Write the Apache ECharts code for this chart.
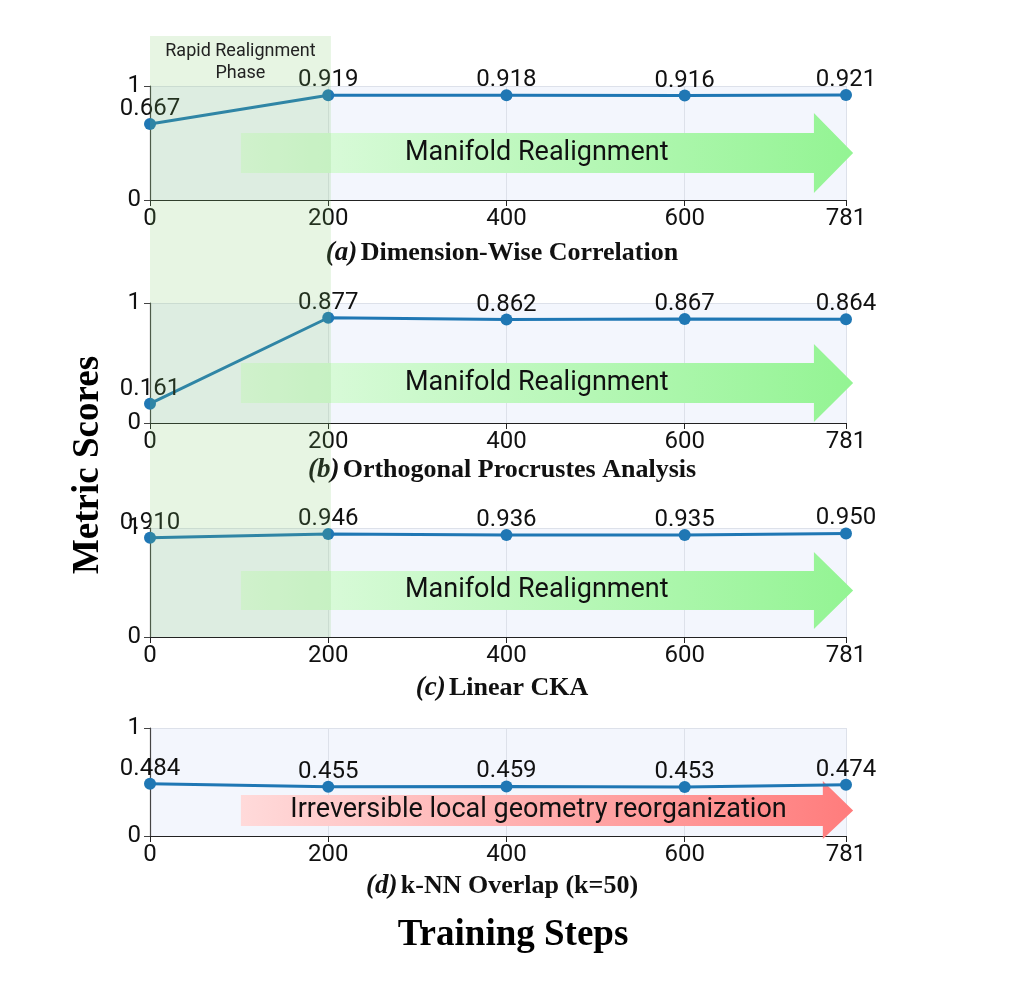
<!DOCTYPE html>
<html><head><meta charset="utf-8">
<script src="https://cdn.jsdelivr.net/npm/echarts@6/dist/echarts.min.js"></script>
<style>html,body{margin:0;padding:0;background:#fff}#c{width:1014px;height:982px}</style>
</head><body><div id="c"></div>
<script>
// ---- data ----
const steps = [0, 200, 400, 600, 781];
const xTickValues = [0, 200, 400, 600, 781];
const dimCorr = [0.667, 0.919, 0.918, 0.916, 0.921];
const procrustes = [0.161, 0.877, 0.862, 0.867, 0.864];
const linearCKA = [0.910, 0.946, 0.936, 0.935, 0.950];
const knnOverlap = [0.484, 0.455, 0.459, 0.453, 0.474];
const panelTags = ['(a)', '(b)', '(c)', '(d)'];
const panelNames = ['Dimension-Wise Correlation', 'Orthogonal Procrustes Analysis', 'Linear CKA', 'k-NN Overlap (k=50)'];
const arrowTexts = ['Manifold Realignment', 'Manifold Realignment', 'Manifold Realignment', 'Irreversible local geometry reorganization'];
const phaseLabel = 'Rapid Realignment\nPhase';
const yLabel = 'Metric Scores';
const xLabel = 'Training Steps';
const phaseEndStep = 203;

// ---- layout / style ----
const seriesValues = [dimCorr, procrustes, linearCKA, knnOverlap];
const grids = [
  {top: 86, height: 114, titleY: 253},
  {top: 303, height: 120, titleY: 470},
  {top: 528, height: 109, titleY: 688},
  {top: 728, height: 108, titleY: 886}
];
const arrowGeom = [
  {body: [0.237, 0.588], head: [0.061, 0.763], x0: 102, hx: 745, tip: 789, tx: 434},
  {body: [0.167, 0.500], head: [0.008, 0.658], x0: 102, hx: 745, tip: 789, tx: 434},
  {body: [0.248, 0.606], head: [0.073, 0.780], x0: 102, hx: 745, tip: 789, tx: 434},
  {body: [0.093, 0.380], head: [-0.028, 0.509], x0: 102, hx: 755, tip: 789, tx: 436}
];
const FONT = 'Roboto';
const SERIF = 'Liberation Serif';
const BLUE = '#1f77b4';

const chart = echarts.init(document.getElementById('c'), null, {renderer: 'canvas'});

const option = {
  backgroundColor: '#ffffff',
  animation: false,
  grid: grids.map(g => ({
    left: 150, width: 696, top: g.top, height: g.height,
    show: true, backgroundColor: '#f3f6fd', borderWidth: 0
  })),
  xAxis: grids.map((g, i) => ({
    type: 'value', gridIndex: i, min: 0, max: 781, interval: 200,
    axisLine: {show: true, onZero: false, lineStyle: {color: '#222', width: 1.2}},
    axisTick: {show: true, length: 6, customValues: xTickValues, lineStyle: {color: '#222'}},
    axisLabel: {customValues: xTickValues, fontSize: 24, color: '#111', margin: 7, fontFamily: FONT},
    splitLine: {show: true, lineStyle: {color: '#dde1ea', width: 1}}
  })),
  yAxis: grids.map((g, i) => ({
    type: 'value', gridIndex: i, min: 0, max: 1, interval: 1,
    axisLine: {show: true, onZero: false, lineStyle: {color: '#444', width: 1.2}},
    axisTick: {show: true, length: 6, lineStyle: {color: '#444'}},
    axisLabel: {fontSize: 24, color: '#111', margin: 9, fontFamily: FONT},
    splitLine: {show: true, lineStyle: {color: '#dde1ea', width: 1}}
  })),
  series: seriesValues.map((vals, i) => ({
    type: 'line', xAxisIndex: i, yAxisIndex: i,
    data: steps.map((s, j) => [s, vals[j]]),
    symbol: 'circle', symbolSize: 12, z: 3,
    lineStyle: {color: BLUE, width: 3},
    itemStyle: {color: BLUE},
    label: {
      show: true, position: 'top', distance: -3,
      formatter: p => p.value[1].toFixed(3),
      fontSize: 24, color: '#111', fontFamily: FONT
    }
  }))
};
chart.setOption(option);

function px(i, x, y) { return chart.convertToPixel({gridIndex: i}, [x, y]); }

const graphics = [];
arrowGeom.forEach((a, i) => {
  const pts = [
    px(i, a.x0, a.body[1]), px(i, a.hx, a.body[1]), px(i, a.hx, a.head[1]),
    px(i, a.tip, (a.body[0] + a.body[1]) / 2),
    px(i, a.hx, a.head[0]), px(i, a.hx, a.body[0]), px(i, a.x0, a.body[0])
  ];
  const isRed = i === 3;
  graphics.push({
    type: 'polygon', z: 1, silent: true,
    shape: {points: pts},
    style: {
      fill: new echarts.graphic.LinearGradient(0, 0, 1, 0, isRed ?
        [{offset: 0, color: '#ffdada'}, {offset: 1, color: '#ff7c7c'}] :
        [{offset: 0, color: '#e3fbe3'}, {offset: 1, color: '#93f493'}])
    }
  });
  const c = px(i, a.tx, (a.body[0] + a.body[1]) / 2);
  graphics.push({
    type: 'text', z: 1, silent: true, x: c[0], y: c[1],
    style: {text: arrowTexts[i], fill: '#111', font: '27px Roboto', align: 'center', verticalAlign: 'middle'}
  });
  graphics.push({
    type: 'text', z: 1, silent: true, x: 502, y: grids[i].titleY,
    style: {
      text: '{t|' + panelTags[i] + '} {n|' + panelNames[i] + '}',
      align: 'center', verticalAlign: 'middle',
      rich: {
        t: {fontFamily: SERIF, fontWeight: 'bold', fontStyle: 'italic', fontSize: 27, fill: '#111', color: '#111'},
        n: {fontFamily: SERIF, fontWeight: 'bold', fontSize: 26, fill: '#111', color: '#111'}
      }
    }
  });
});

// rapid realignment band
const b0 = px(0, 0, 1), b1 = px(0, phaseEndStep, 1), cBottom = px(2, 0, 0);
graphics.push({
  type: 'rect', z: 50, silent: true,
  shape: {x: b0[0], y: 36, width: b1[0] - b0[0], height: cBottom[1] - 36},
  style: {fill: 'rgba(120,200,100,0.18)'}
});
graphics.push({
  type: 'text', z: 51, silent: true, x: (b0[0] + b1[0]) / 2, y: 40,
  style: {text: phaseLabel, fill: '#222', font: '18px Roboto', align: 'center', verticalAlign: 'top', lineHeight: 22}
});
graphics.push({
  type: 'text', z: 5, silent: true, x: 88, y: 465, rotation: Math.PI / 2,
  style: {text: yLabel, fill: '#000', font: 'bold 37px "Liberation Serif"', align: 'center', verticalAlign: 'middle'}
});
graphics.push({
  type: 'text', z: 5, silent: true, x: 513, y: 935,
  style: {text: xLabel, fill: '#000', font: 'bold 37px "Liberation Serif"', align: 'center', verticalAlign: 'middle'}
});
chart.setOption({graphic: graphics});
</script>
</body></html>
